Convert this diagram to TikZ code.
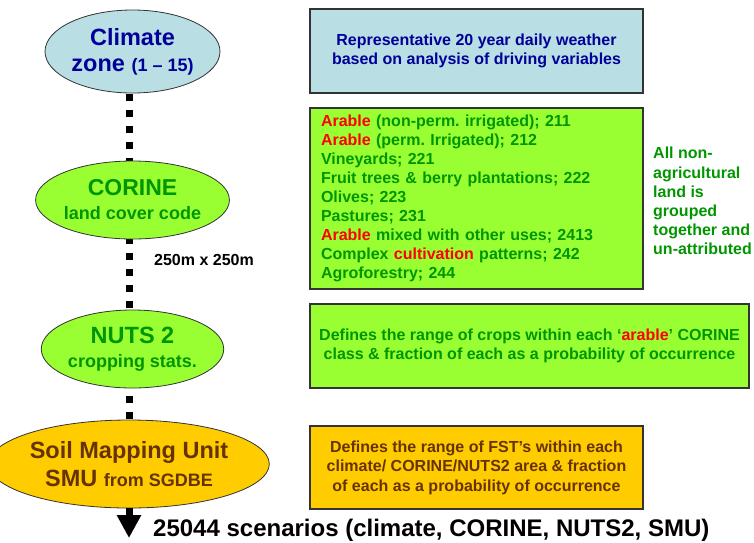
\documentclass[tikz,border=0pt]{standalone}
\usepackage{fontspec}
\setmainfont{Liberation Sans}
\usetikzlibrary{shapes.geometric,arrows.meta}
\definecolor{cblue}{RGB}{185,222,228}
\definecolor{cgreen}{RGB}{153,255,51}
\definecolor{corange}{RGB}{255,204,0}
\definecolor{tblue}{RGB}{0,0,153}
\definecolor{tgreen}{RGB}{0,150,0}
\definecolor{tred}{RGB}{255,0,0}
\definecolor{tbrown}{RGB}{102,51,0}
\definecolor{edgec}{RGB}{51,51,51}
\newcommand{\fsz}[2]{\fontsize{#1}{#2}\selectfont}
\pgfdeclarelayer{bg}
\pgfsetlayers{bg,main}
\frenchspacing
\begin{document}
\begin{tikzpicture}[x=1pt,y=-1pt,
  oval/.style={ellipse, draw=edgec, line width=0.8pt, inner sep=0pt, align=center},
  infobox/.style={rectangle, draw=edgec, line width=1.2pt, inner sep=0pt, align=center, font=\bfseries\fsz{16}{19}},
  dots/.style={line width=7pt, dash pattern=on 7pt off 8.9pt, dash phase=5pt},
  plain/.style={inner sep=0pt},
]
\useasboundingbox (0,0) rectangle (754,542);

% left column
\node[oval, fill=cblue, text=tblue, minimum width=175pt, minimum height=83pt, font=\bfseries\fsz{23.5}{26}] (clim) at (132.5,51.5)
  {Climate\\zone {\fsz{18}{26}(1 – 15)}};
\node[oval, fill=cgreen, text=tgreen, minimum width=175pt, minimum height=78pt, font=\bfseries\fsz{23}{24}] (cor) at (132.5,200)
  {CORINE\\{\fsz{18}{24}land cover code}};
\node[oval, fill=cgreen, text=tgreen, minimum width=175pt, minimum height=78pt, font=\bfseries\fsz{23.5}{24}] (nuts) at (132.5,349)
  {NUTS 2\\{\fsz{18}{24}cropping stats.}};
\node[oval, fill=corange, text=tbrown, minimum width=244pt, minimum height=88pt, font=\bfseries\fsz{23.5}{28}] (smu) at (129,464)
  {Soil Mapping Unit\\SMU {\fsz{18}{28}from SGDBE}};

\begin{pgfonlayer}{bg}
\draw[dots] ([xshift=-3.5pt]clim.center) -- ([xshift=-3.5pt]cor.center)
  -- ([xshift=-3.5pt]nuts.center) -- (smu.center);
\end{pgfonlayer}

\coordinate (arrowend) at (129.5,538);
\draw[line width=7pt, -{Triangle[width=23pt,length=23pt]}] (smu.south) -- (smu.south |- arrowend);

\node[plain, anchor=base west, font=\bfseries\fsz{16}{19}] (scale) at (154,265) {250m x 250m};
\node[plain, anchor=base west, font=\bfseries\fsz{24}{28}] (result) at (153,536) {25044 scenarios (climate, CORINE, NUTS2, SMU)};

% right column
\node[infobox, fill=cblue, text=tblue, minimum width=333pt, minimum height=84pt] (b1) at (476.5,51)
  {Representative 20 year daily weather\\based on analysis of driving variables};

\node[infobox, fill=cgreen, text=tgreen, minimum width=333pt, minimum height=181pt, align=left, text width=311pt] (b2) at (476.5,198.5)
  {{\color{tred}Arable} (non-perm. irrigated); 211\\
   {\color{tred}Arable} (perm. Irrigated); 212\\
   Vineyards; 221\\
   Fruit trees \& berry plantations; 222\\
   Olives; 223\\
   Pastures; 231\\
   {\color{tred}Arable} mixed with other uses; 2413\\
   Complex {\color{tred}cultivation} patterns; 242\\
   Agroforestry; 244};

\node[plain, text=tgreen, align=left, anchor=north west, font=\bfseries\fsz{16}{19.2}] (note) at (653,147)
  {All non-\\agricultural\\land is\\grouped\\together and\\un-attributed};

\node[infobox, fill=cgreen, text=tgreen, minimum width=439pt, minimum height=84pt] (b3) at (529.5,346)
  {Defines the range of crops within each ‘{\color{tred}arable}’ CORINE\\class \& fraction of each as a probability of occurrence};

\node[infobox, fill=corange, text=tbrown, minimum width=333pt, minimum height=83pt, font=\bfseries\fsz{16}{19.5}] (b4) at (476.5,467.5)
  {Defines the range of FST’s within each\\climate/ CORINE/NUTS2 area \& fraction\\of each as a probability of occurrence};
\end{tikzpicture}
\end{document}
